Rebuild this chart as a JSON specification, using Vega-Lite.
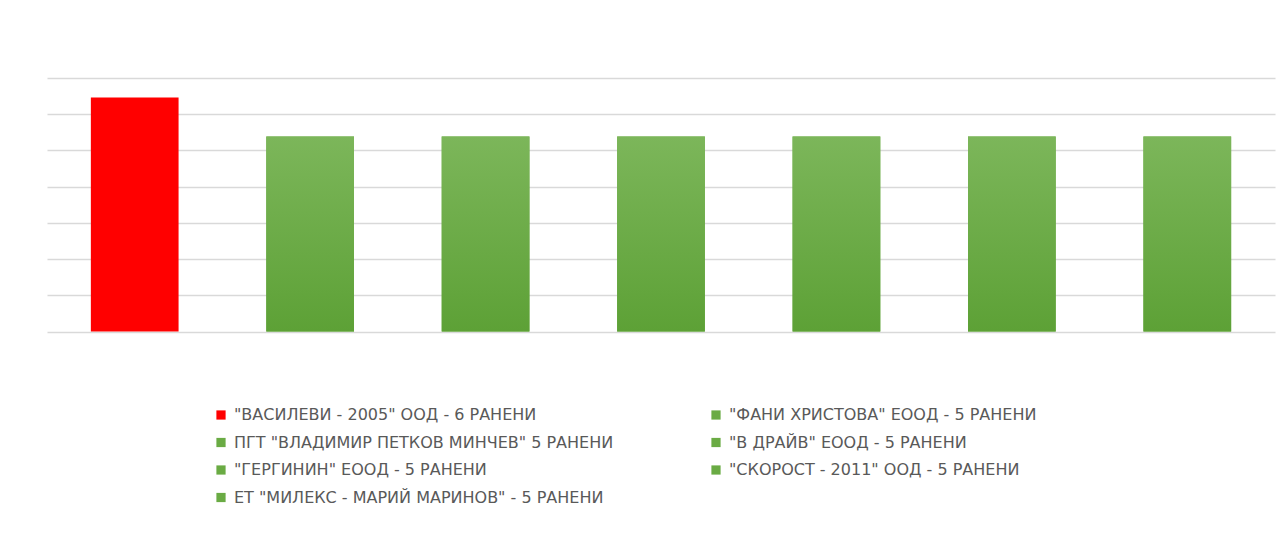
{
  "$schema": "https://vega.github.io/schema/vega-lite/v6.json",
  "autosize": {"type": "none"},
  "width": 1228,
  "height": 253.5,
  "padding": {"left": 47, "top": 78, "right": 12, "bottom": 207.5},
  "background": "#ffffff",
  "config": {"view": {"stroke": null}, "font": "DejaVu Sans"},
  "data": {
    "values": [
      {"name": "\"ВАСИЛЕВИ - 2005\" ООД -  6 РАНЕНИ", "value": 6},
      {"name": "\"ФАНИ ХРИСТОВА\" ЕООД - 5 РАНЕНИ", "value": 5},
      {"name": "ПГТ \"ВЛАДИМИР ПЕТКОВ МИНЧЕВ\" 5 РАНЕНИ", "value": 5},
      {"name": "\"В ДРАЙВ\" ЕООД - 5 РАНЕНИ", "value": 5},
      {"name": "\"ГЕРГИНИН\" ЕООД - 5 РАНЕНИ", "value": 5},
      {"name": "\"СКОРОСТ - 2011\" ООД - 5 РАНЕНИ", "value": 5},
      {"name": "ЕТ \"МИЛЕКС - МАРИЙ МАРИНОВ\" - 5 РАНЕНИ", "value": 5}
    ]
  },
  "encoding": {
    "x": {
      "field": "name", "type": "nominal", "sort": null,
      "scale": {"paddingInner": 0.5, "paddingOuter": 0.25},
      "axis": null
    },
    "y": {
      "field": "value", "type": "quantitative",
      "scale": {"domain": [0, 6.5], "nice": false},
      "axis": {
        "values": [0, 0.9286, 1.8571, 2.7857, 3.7143, 4.6429, 5.5714, 6.5],
        "labels": false, "ticks": false, "domain": false, "title": null,
        "gridColor": "#d9d9d9", "gridWidth": 1.4
      }
    }
  },
  "layer": [
    {
      "mark": {"type": "bar"},
      "encoding": {
        "color": {
          "field": "name", "type": "nominal", "sort": null,
          "scale": {
            "domain": [
              "\"ВАСИЛЕВИ - 2005\" ООД -  6 РАНЕНИ",
              "\"ФАНИ ХРИСТОВА\" ЕООД - 5 РАНЕНИ",
              "ПГТ \"ВЛАДИМИР ПЕТКОВ МИНЧЕВ\" 5 РАНЕНИ",
              "\"В ДРАЙВ\" ЕООД - 5 РАНЕНИ",
              "\"ГЕРГИНИН\" ЕООД - 5 РАНЕНИ",
              "\"СКОРОСТ - 2011\" ООД - 5 РАНЕНИ",
              "ЕТ \"МИЛЕКС - МАРИЙ МАРИНОВ\" - 5 РАНЕНИ"
            ],
            "range": ["#ff0000", "#6aab44", "#6aab44", "#6aab44", "#6aab44", "#6aab44", "#6aab44"]
          },
          "legend": {
            "orient": "none",
            "direction": "horizontal",
            "legendX": 166,
            "legendY": 329,
            "title": null,
            "columns": 2,
            "columnPadding": 94,
            "rowPadding": 11.5,
            "symbolType": "square",
            "symbolSize": 85,
            "symbolStrokeWidth": 0,
            "labelFont": "DejaVu Sans",
            "labelFontSize": 16,
            "labelColor": "#595959",
            "labelOffset": 5,
            "labelLimit": 0
          }
        }
      }
    },
    {
      "transform": [{"filter": "datum.value < 6"}],
      "mark": {
        "type": "bar",
        "fill": {
          "gradient": "linear", "x1": 0, "y1": 0, "x2": 0, "y2": 1,
          "stops": [
            {"offset": 0, "color": "#7cb65a"},
            {"offset": 1, "color": "#5da136"}
          ]
        }
      }
    }
  ]
}
